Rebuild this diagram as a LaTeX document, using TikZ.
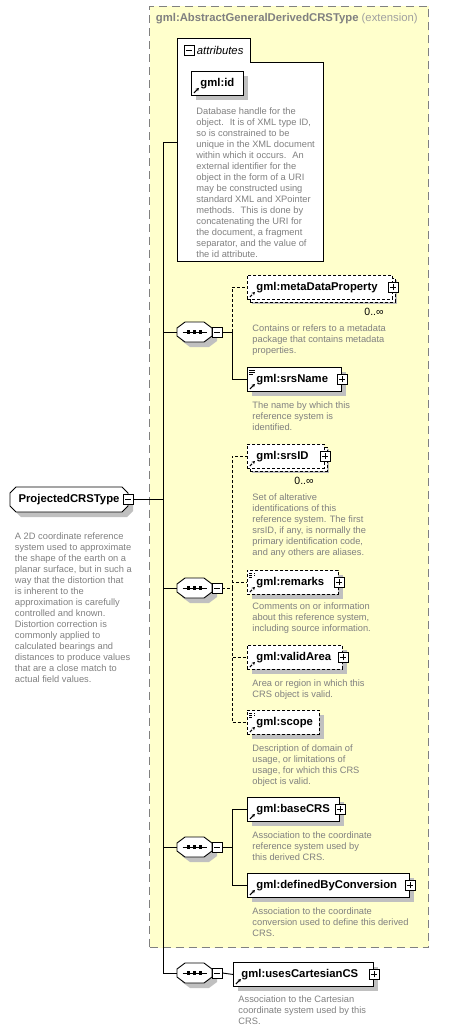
\documentclass[tikz,border=0pt]{standalone}
\usepackage{fontspec}
\setmainfont{Liberation Sans}
\usetikzlibrary{shapes.misc,shadows,arrows.meta}
\definecolor{extfill}{HTML}{FFFFCC}
\definecolor{extborder}{HTML}{808080}
\definecolor{extlight}{HTML}{A0A0A0}
\definecolor{descgray}{HTML}{808080}
\definecolor{shgray}{HTML}{C0C0C0}
\newcommand{\lblfont}{\fontsize{11.3}{13}\selectfont\bfseries}
\newcommand{\dscfont}{\fontsize{9.3}{11}\selectfont}
\newcommand{\refarrowpic}{\draw[line width=1pt,-{Stealth[length=3.2pt,width=3.4pt]}] ([shift={(2.5pt,2.5pt)}]path picture bounding box.south west) -- ++(5pt,5pt);}
\newcommand{\simplepic}{\draw[line width=0.7pt] ([shift={(2pt,-3pt)}]path picture bounding box.north west) -- ++(6pt,0pt);
  \draw[line width=0.7pt] ([shift={(2pt,-5pt)}]path picture bounding box.north west) -- ++(6pt,0pt);
  \draw[line width=0.7pt] ([shift={(2pt,-7pt)}]path picture bounding box.north west) -- ++(4pt,0pt);}
\newcommand{\octpath}[3]{([shift={(#2-9.5,#3-10)}]#1.center) -- ([shift={(#2+9.5,#3-10)}]#1.center) -- ([shift={(#2+17.5,#3-4)}]#1.center) -- ([shift={(#2+17.5,#3+4)}]#1.center) -- ([shift={(#2+9.5,#3+10)}]#1.center) -- ([shift={(#2-9.5,#3+10)}]#1.center) -- ([shift={(#2-17.5,#3+4)}]#1.center) -- ([shift={(#2-17.5,#3-4)}]#1.center) -- cycle}
\newcommand{\seqdraw}[1]{%
  \fill[shgray] \octpath{#1}{5}{5};
  \draw[fill=white, line width=0.9pt] \octpath{#1}{0}{0};
  \draw[line width=0.9pt] ([xshift=-12pt]#1.center) -- ([xshift=12pt]#1.center);
  \fill ([xshift=-6pt]#1.center) +(-1.6pt,-1.6pt) rectangle +(1.6pt,1.6pt);
  \fill (#1.center) +(-1.6pt,-1.6pt) rectangle +(1.6pt,1.6pt);
  \fill ([xshift=6pt]#1.center) +(-1.6pt,-1.6pt) rectangle +(1.6pt,1.6pt);}
\tikzset{
  ext/.style={draw=extborder, fill=extfill, line width=1pt, dash pattern=on 8pt off 5pt, anchor=north west, minimum width=279pt, minimum height=941pt, inner sep=0pt},
  exttitle/.style={anchor=west, inner sep=0pt, text=extborder, font=\lblfont},
  elem/.style={draw, fill=white, line width=0.9pt, anchor=north west, minimum height=24pt, inner xsep=9pt, inner ysep=0pt, text width=#1, align=left, font=\lblfont, general shadow={fill=shgray, draw=none, shadow xshift=5pt, shadow yshift=-5pt}, path picture={\refarrowpic}},
  simpleelem/.style={elem=#1, path picture={\refarrowpic\simplepic}},
  opt/.style={dash pattern=on 3pt off 2pt},
  multi/.style={general shadow={draw=black, fill=white, line width=0.9pt, dash pattern=on 3pt off 2pt, shadow xshift=3pt, shadow yshift=-3pt}},
  pmbox/.style={draw, fill=white, line width=0.8pt, minimum size=10pt, inner sep=0pt},
  minusbox/.style={pmbox, path picture={\draw[line width=0.8pt] ([xshift=-3pt]path picture bounding box.center) -- ([xshift=3pt]path picture bounding box.center);}},
  plusbox/.style={pmbox, path picture={\draw[line width=0.8pt] ([xshift=-3pt]path picture bounding box.center) -- ([xshift=3pt]path picture bounding box.center); \draw[line width=0.8pt] ([yshift=-3pt]path picture bounding box.center) -- ([yshift=3pt]path picture bounding box.center);}},
  seqbox/.style={rectangle, draw=none, minimum width=35pt, minimum height=20pt, inner sep=0pt},
  desc/.style={anchor=north west, inner sep=0pt, align=left, font=\dscfont, text=descgray},
  mult/.style={inner sep=0pt, font=\fontsize{10.5}{12}\selectfont},
  attrbox/.style={draw, fill=white, line width=0.9pt},
  attrlbl/.style={anchor=west, inner sep=0pt, font=\fontsize{11.3}{13}\selectfont\itshape},
  root/.style={chamfered rectangle, chamfered rectangle xsep=3pt, chamfered rectangle ysep=3pt, draw, fill=white, line width=0.9pt, minimum width=118pt, minimum height=25pt, inner xsep=2pt, inner ysep=0pt, font=\lblfont, general shadow={fill=shgray, draw=none, shadow xshift=5pt, shadow yshift=-5pt}}
}
\begin{document}
\begin{tikzpicture}[x=1pt,y=-1pt,line width=0.9pt]
\useasboundingbox (0,0) rectangle (467,1030);
% extension container
\node[ext] (ext) at (149,6) {};
\node[exttitle] (extT) at (155.5,18.5) {gml:AbstractGeneralDerivedCRSType {\mdseries\color{extlight}(extension)}};
% trunk coordinates
\coordinate (trunkTop) at (163,142);
\coordinate (trunkBot) at (163,973);
\coordinate (attrIn) at (177,142);
\coordinate (j1) at (232,332);
\coordinate (j2) at (232,588);
\coordinate (j3) at (232,847);
% attributes
\draw[attrbox] (177,38) -- (250,38) -- (250,62) -- (323,62) -- (323,261) -- (177,261) -- cycle;
\node[minusbox] (attrMinus) at (189,50) {};
\node[attrlbl] (attrLbl) at (196.5,50.5) {attributes};
\node[elem=34pt] (id) at (191,71) {\mbox{gml:id}};
\node[desc] (idD) at (196,107) {Database handle for the\\object.~ It is of XML type ID,\\so is constrained to be\\unique in the XML document\\within which it occurs.~ An\\external identifier for the\\object in the form of a URI\\may be constructed using\\standard XML and XPointer\\methods.~ This is done by\\concatenating the URI for\\the document, a fragment\\separator, and the value of\\the id attribute.};
% root
\node[root] (root) at (69,499.5) {ProjectedCRSType};
\node[minusbox] (rootMinus) at (root.east) {};
\node[desc] (rootD) at (14.5,532) {A 2D coordinate reference\\system used to approximate\\the shape of the earth on a\\planar surface, but in such a\\way that the distortion that\\is inherent to the\\approximation is carefully\\controlled and known.\\Distortion correction is\\commonly applied to\\calculated bearings and\\distances to produce values\\that are a close match to\\actual field values.};
% sequences
\node[seqbox] (s1) at (194.5,332) {};
\node[seqbox] (s2) at (194.5,588) {};
\node[seqbox] (s3) at (194.5,847) {};
\node[seqbox] (s4) at (194.5,973) {};
% trunk
\draw (rootMinus.east) -- (trunkTop |- rootMinus.east);
\draw (trunkTop) -- (trunkBot);
\draw (trunkTop) -- (attrIn);
\draw (trunkTop |- s1.west) -- (s1.west);
\draw (trunkTop |- s2.west) -- (s2.west);
\draw (trunkTop |- s3.west) -- (s3.west);
\draw (trunkBot) -- (s4.west);
\seqdraw{s1}
\seqdraw{s2}
\seqdraw{s3}
\seqdraw{s4}
\node[minusbox] (m1) at (217,332) {};
\node[minusbox] (m2) at (217,588) {};
\node[minusbox] (m3) at (217,847) {};
\node[minusbox] (m4) at (217,973) {};
% group 1
\node[elem=127pt, opt, multi] (meta) at (247,275) {\mbox{gml:metaDataProperty}};
\node[plusbox] (metaPlus) at (meta.east) {};
\node[mult] (metaMult) at (374,311.5) {0..∞};
\node[desc] (metaD) at (252,324.5) {Contains or refers to a metadata\\package that contains metadata\\properties.};
\node[simpleelem=76pt] (srsName) at (247,367) {\mbox{gml:srsName}};
\node[plusbox] (srsNamePlus) at (srsName.east) {};
\node[desc] (srsNameD) at (252,401) {The name by which this\\reference system is\\identified.};
\draw[opt] (j1) |- (meta.west);
\draw (m1.east) -- (j1) |- (srsName.west);
% group 2
\node[elem=59pt, opt, multi] (srsID) at (247,444) {\mbox{gml:srsID}};
\node[plusbox] (srsIDPlus) at (srsID.east) {};
\node[mult] (srsIDMult) at (304,481) {0..∞};
\node[desc] (srsIDD) at (252,493) {Set of alterative\\identifications of this\\reference system. The first\\srsID, if any, is normally the\\primary identification code,\\and any others are aliases.};
\node[simpleelem=73pt, opt] (remarks) at (247,570) {\mbox{gml:remarks}};
\node[plusbox] (remarksPlus) at (remarks.east) {};
\node[desc] (remarksD) at (252,602) {Comments on or information\\about this reference system,\\including source information.};
\node[elem=77pt, opt] (validArea) at (247,645) {\mbox{gml:validArea}};
\node[plusbox] (validAreaPlus) at (validArea.east) {};
\node[desc] (validAreaD) at (252,679) {Area or region in which this\\CRS object is valid.};
\node[simpleelem=54pt, opt] (scope) at (247,710) {\mbox{gml:scope}};
\node[desc] (scopeD) at (252,744) {Description of domain of\\usage, or limitations of\\usage, for which this CRS\\object is valid.};
\draw[opt] (m2.east) -- (j2);
\draw[opt] (j2) |- (srsID.west);
\draw[opt] (j2) |- (remarks.west);
\draw[opt] (j2) |- (validArea.west);
\draw[opt] (j2) |- (scope.west);
% group 3
\node[elem=74pt] (baseCRS) at (247,797) {\mbox{gml:baseCRS}};
\node[plusbox] (baseCRSPlus) at (baseCRS.east) {};
\node[desc] (baseCRSD) at (252,831) {Association to the coordinate\\reference system used by\\this derived CRS.};
\node[elem=144pt] (defined) at (247,873) {\mbox{gml:definedByConversion}};
\node[plusbox] (definedPlus) at (defined.east) {};
\node[desc] (definedD) at (252,907) {Association to the coordinate\\conversion used to define this derived\\CRS.};
\draw (m3.east) -- (j3);
\draw (j3) |- (baseCRS.west);
\draw (j3) |- (defined.west);
% group 4
\node[elem=124pt, inner xsep=8pt] (uses) at (233,962) {\mbox{gml:usesCartesianCS}};
\node[plusbox] (usesPlus) at (uses.east) {};
\node[desc] (usesD) at (238,995) {Association to the Cartesian\\coordinate system used by this\\CRS.};
\draw (m4.east) -- (uses.west);
\end{tikzpicture}
\end{document}
